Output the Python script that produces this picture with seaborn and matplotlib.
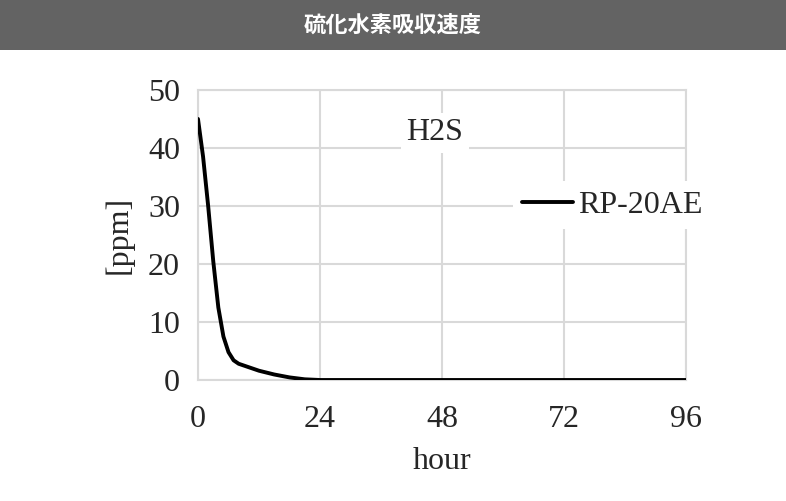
import matplotlib
matplotlib.use("Agg")
import matplotlib.pyplot as plt
import seaborn as sns
import pandas as pd
from matplotlib.patches import Rectangle

# values
hours = [0, 1, 2, 3, 4, 5, 6, 7, 8, 10, 12, 15, 18, 21, 24, 36, 48, 60, 72, 84, 96]
ppm = [45, 38.5, 30, 20.5, 12.5, 7.5, 4.8, 3.4, 2.8, 2.2, 1.6, 0.95, 0.45, 0.12, 0, 0, 0, 0, 0, 0, 0]
series_name = "RP-20AE"
x_ticks = [0, 24, 48, 72, 96]
y_ticks = [0, 10, 20, 30, 40, 50]
title = "硫化水素吸収速度"

df = pd.DataFrame({"hour": hours, "ppm": ppm, "sample": series_name})

sns.set_style("whitegrid")
plt.rcParams["font.family"] = ["Liberation Serif", "DejaVu Serif"]

fig = plt.figure(figsize=(7.86, 5.01), dpi=100)
ax = fig.add_axes([0.2519, 0.2415, 0.6209, 0.5789])

sns.lineplot(data=df, x="hour", y="ppm", hue="sample", palette=["black"],
             linewidth=2.8, ax=ax, zorder=3)
ax.lines[0].set_solid_joinstyle("round")

ax.set_xlim(0, 96)
ax.set_ylim(0, 50)
ax.set_xticks(x_ticks)
ax.set_yticks(y_ticks)
ax.tick_params(axis="x", labelsize=23, length=0, pad=18)
ax.tick_params(axis="y", labelsize=23, length=0, pad=13)
ax.grid(color="#d9d9d9", linewidth=1.5)
for s in ax.spines.values():
    s.set_color("#d9d9d9")
    s.set_linewidth(1.5)
ax.set_xlabel("hour", fontsize=23, labelpad=9)
ax.set_ylabel("[ppm]", fontsize=23, labelpad=10)

ax.text(0.485, 0.853, "H2S", transform=ax.transAxes, fontsize=23,
        ha="center", va="center", zorder=4,
        bbox=dict(facecolor="white", edgecolor="none", pad=4))

leg = ax.legend(loc="center left", bbox_to_anchor=(0.645, 0.603), frameon=True,
                fontsize=23, handlelength=1.6, handletextpad=0.15,
                borderaxespad=0, borderpad=0.3)
leg.get_frame().set_facecolor("white")
leg.get_frame().set_edgecolor("none")
leg.get_frame().set_alpha(1)

fig.patches.append(Rectangle((0, 1 - 50 / 501), 1, 50 / 501, transform=fig.transFigure,
                             facecolor="#636363", edgecolor="none", zorder=0))
fig.text(0.5, 1 - 25 / 501, title, ha="center", va="center", color="white",
         fontsize=16, fontweight="bold", family=["Noto Sans CJK JP", "DejaVu Sans"])

fig.savefig("out.png", dpi=100)
